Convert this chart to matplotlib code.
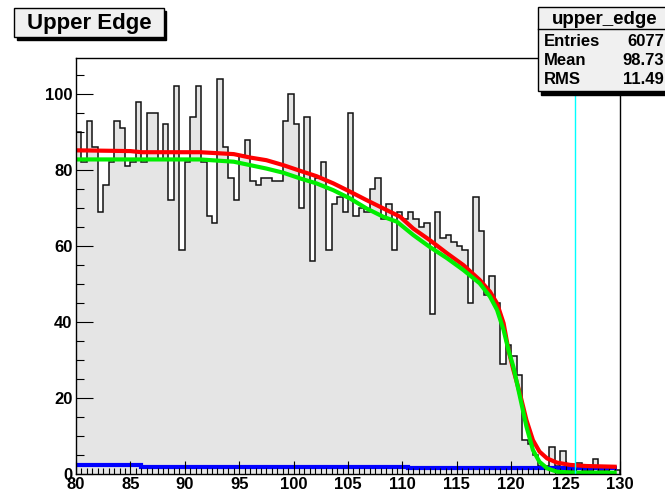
import numpy as np
import matplotlib
matplotlib.use('Agg')
import matplotlib.pyplot as plt
from matplotlib.patches import Rectangle

plt.rcParams['font.family'] = ['Liberation Sans', 'DejaVu Sans']
plt.rcParams['font.weight'] = 'bold'

# histogram "upper_edge": 100 bins from 80 to 130
bin_lo, bin_hi, n_bins = 80.0, 130.0, 100
counts = [90, 82, 93, 86, 69, 76, 82, 93, 91, 81,
          82, 98, 82, 95, 95, 83, 92, 72, 102, 59,
          82, 94, 102, 82, 68, 66, 104, 86, 78, 72,
          84, 88, 77, 76, 78, 78, 77, 77, 93, 100,
          92, 70, 94, 56, 78, 82, 59, 71, 73, 69,
          95, 68, 70, 69, 75, 78, 67, 71, 59, 69,
          67, 69, 67, 65, 66, 42, 69, 62, 63, 61,
          60, 59, 45, 73, 64, 47, 52, 45, 29, 34,
          31, 26, 9, 8, 5, 2, 2, 7, 2, 6,
          1, 1, 3, 1, 1, 4, 1, 1, 0, 1]

# fitted curves
red_x = [80, 85, 86, 91.4, 94.5, 96.0, 97.5, 99.05, 100.6, 102.1, 103.65, 105.2,
         106.7, 108.25, 109.8, 111.0, 112.5, 114.1, 115.6, 117.1, 118.05, 118.7,
         119.3, 119.75, 120.2, 120.8, 121.4, 122.0, 122.6, 123.3, 124.2, 125.4,
         126.9, 129.7]
red_y = [85.2, 85.0, 84.7, 84.7, 84.2, 83.3, 82.6, 81.3, 79.8, 78.4, 76.5, 74.3,
         72.1, 69.9, 67.7, 64.6, 61.6, 58.1, 55.0, 51.1, 48.0, 44.9,
         39.7, 32.6, 27.4, 21.2, 14.2, 8.9, 5.9, 4.1, 3.0, 2.4,
         2.1, 1.9]
green_x = [80, 91.4, 94.5, 96.0, 97.5, 99.05, 100.6, 102.1, 103.65, 105.2, 106.7,
           108.25, 109.5, 111.0, 112.5, 114.1, 115.6, 117.1, 118.05, 118.7, 119.3,
           119.75, 120.2, 120.8, 121.4, 122.0, 122.6, 123.3, 124.2, 125.7, 129.7]
green_y = [82.8, 82.8, 82.2, 81.3, 80.4, 79.3, 77.8, 76.5, 74.7, 72.5, 69.9,
           67.7, 66.4, 62.9, 59.8, 56.8, 53.7, 50.2, 46.7, 43.2, 37.9,
           32.6, 28.2, 20.4, 12.5, 6.3, 3.2, 1.5, 0.6, 0.35, 0.35]
blue_edges = [80, 86, 110.5, 129.7]
blue_vals = [2.4, 1.9, 1.6]
cut_x = 125.86

stats_name = 'upper_edge'
stats_rows = [('Entries', '6077'), ('Mean', '98.73'), ('RMS', '11.49')]
title = 'Upper Edge'

W, H = 665, 495
fig = plt.figure(figsize=(W / 100, H / 100), dpi=100)

def px(x, y):
    # pixel (from top-left) -> figure fraction
    return x / W, 1 - y / H

l, t = px(76, 58)
r, b = px(620, 474)
ax = fig.add_axes([l, b, r - l, t - b])

edges = np.linspace(bin_lo, bin_hi, n_bins + 1)
ax.stairs(counts, edges, fill=True, facecolor='#e5e5e5', edgecolor='none')
ax.stairs(counts, edges, baseline=0, color='#111111', lw=1.1)
ax.plot(red_x, red_y, color='#ff0000', lw=3, solid_capstyle='butt')
ax.plot(green_x, green_y, color='#00ee00', lw=3, solid_capstyle='butt')
ax.stairs(blue_vals, blue_edges, baseline=None, color='#0000ff', lw=3)
ax.axvline(cut_x, color='#00ffff', lw=1)

ax.set_xlim(bin_lo, bin_hi)
ax.set_ylim(0, 109.5)
ax.set_xticks(np.arange(80, 131, 5))
ax.set_xticks(np.arange(80, 130.1, 0.5), minor=True)
ax.set_yticks(np.arange(0, 101, 20))
ax.set_yticks(np.arange(0, 109, 5), minor=True)
ax.tick_params(axis='both', which='both', direction='in', top=False, right=False,
               width=0.8, labelsize=12)
ax.tick_params(axis='y', which='major', length=12.5, pad=2.5)
ax.tick_params(axis='y', which='minor', length=6)
ax.tick_params(axis='x', which='major', length=9.5, pad=2)
ax.tick_params(axis='x', which='minor', length=4.5)
for lab in ax.get_xticklabels() + ax.get_yticklabels():
    lab.set_fontweight('bold')
for s in ax.spines.values():
    s.set_linewidth(1.0)

# title box with shadow
x0, y0 = px(14, 37)
x1, y1 = px(164, 8)
fig.patches.append(Rectangle((x0 + 2.5 / W, y0 - 2.5 / H), x1 - x0, y1 - y0,
                             transform=fig.transFigure, facecolor='black',
                             edgecolor='black', zorder=1))
fig.patches.append(Rectangle((x0, y0), x1 - x0, y1 - y0, transform=fig.transFigure,
                             facecolor='#f0f0f0', edgecolor='black', lw=1, zorder=2))
tx, ty = px(89, 23)
fig.text(tx, ty, title, ha='center', va='center', fontsize=16, fontweight='bold')

# stats box
sx0, sy0 = px(538, 91)
sx1, sy1 = px(672, 7)
fig.patches.append(Rectangle((sx0 + 3 / W, sy0 - 4 / H), sx1 - sx0, sy1 - sy0,
                             transform=fig.transFigure, facecolor='black',
                             edgecolor='black', zorder=1))
fig.patches.append(Rectangle((sx0, sy0), sx1 - sx0, sy1 - sy0, transform=fig.transFigure,
                             facecolor='#f0f0f0', edgecolor='black', lw=1, zorder=2))
hx0, hy = px(538, 29)
fig.add_artist(plt.Line2D([sx0, sx1], [hy, hy], transform=fig.transFigure,
                          color='black', lw=1, zorder=3))
nx, ny = px(605, 19)
fig.text(nx, ny, stats_name, ha='center', va='center', fontsize=13.5, fontweight='bold')
for i, (k, v) in enumerate(stats_rows):
    _, ry = px(0, 41 + 19.5 * i)
    fig.text(544 / W, ry, k, ha='left', va='center', fontsize=12, fontweight='bold')
    fig.text(664 / W, ry, v, ha='right', va='center', fontsize=12, fontweight='bold')

fig.savefig('out.png', dpi=100)
